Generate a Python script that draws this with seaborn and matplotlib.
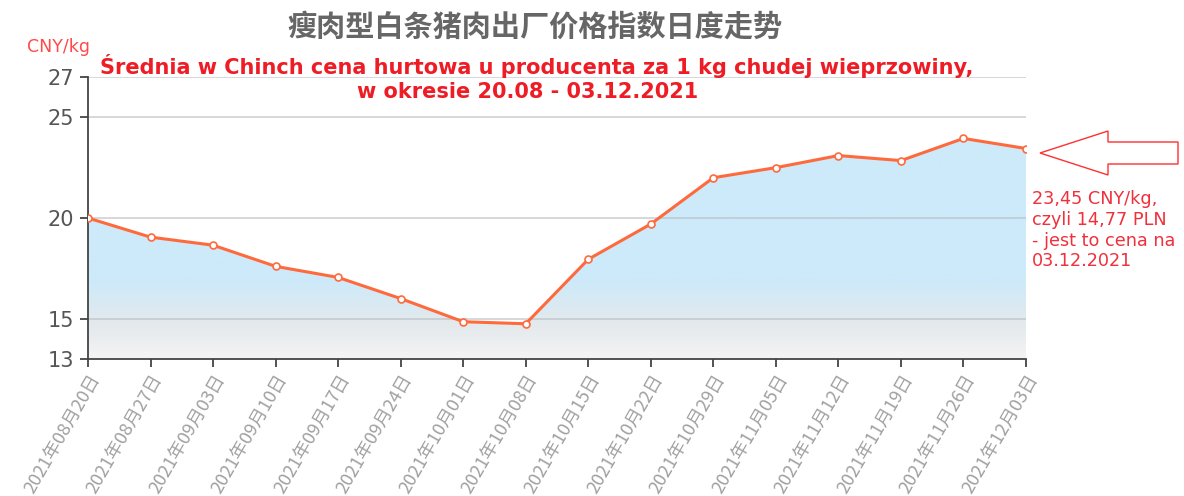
import matplotlib
matplotlib.use("Agg")
import matplotlib.pyplot as plt
import matplotlib.dates as mdates
from matplotlib.colors import LinearSegmentedColormap
from matplotlib.patches import Polygon
import numpy as np
import pandas as pd
import seaborn as sns

# data
dates = ["2021-08-20", "2021-08-27", "2021-09-03", "2021-09-10", "2021-09-17",
         "2021-09-24", "2021-10-01", "2021-10-08", "2021-10-15", "2021-10-22",
         "2021-10-29", "2021-11-05", "2021-11-12", "2021-11-19", "2021-11-26",
         "2021-12-03"]
prices = [20.0, 19.05, 18.65, 17.6, 17.05, 16.0, 14.85, 14.75, 17.95, 19.7,
          22.0, 22.5, 23.1, 22.85, 23.95, 23.45]
y_ticks = [13, 15, 20, 25, 27]

title = "瘦肉型白条猪肉出厂价格指数日度走势"
subtitle_1 = "Średnia w Chinch cena hurtowa u producenta za 1 kg chudej wieprzowiny,"
subtitle_2 = "w okresie 20.08 - 03.12.2021"
unit_label = "CNY/kg"
note = "23,45 CNY/kg,\nczyli 14,77 PLN\n- jest to cena na\n03.12.2021"

df = pd.DataFrame({"date": pd.to_datetime(dates), "price": prices})
tick_labels = [d.strftime("%Y年%m月%d日") for d in df["date"]]

sns.set_style("white")
plt.rcParams["font.family"] = ["DejaVu Sans", "Noto Sans CJK SC"]

W, H = 1184, 496
fig = plt.figure(figsize=(W / 100, H / 100), dpi=100)
ax = fig.add_axes([88 / W, 1 - 359 / H, (1026 - 88) / W, (359 - 77) / H])

x0, x1 = df["date"].min(), df["date"].max()

# area fill with a vertical gradient, clipped to the area under the line
fill = ax.fill_between(df["date"], prices, 13, color="none", lw=0)
cmap = LinearSegmentedColormap.from_list(
    "fade", [(0.0, "#f4f4f4"), (0.12, "#e4e9ec"), (0.28, "#cdeafa"), (1.0, "#cdeafa")])
grad = np.linspace(0, 1, 256).reshape(-1, 1)
img = ax.imshow(grad, cmap=cmap, origin="lower", aspect="auto",
                extent=[mdates.date2num(x0), mdates.date2num(x1), 13, 27], zorder=1)
img.set_clip_path(fill.get_paths()[0], transform=ax.transData)

for yv in [15, 20, 25, 27]:
    ax.axhline(yv, color="#b8bec4", lw=1.4, alpha=0.6, zorder=2)

sns.lineplot(data=df, x="date", y="price", ax=ax, color="#ff6a3d", lw=2.2,
             marker="o", markersize=5, markerfacecolor="white",
             markeredgecolor="#ff6a3d", markeredgewidth=1.2, zorder=4)

ax.set_xlim(x0, x1)
ax.set_ylim(13, 27)
ax.set_yticks(y_ticks)
ax.set_yticklabels([str(v) for v in y_ticks], fontsize=15, color="#555555")
ax.set_xticks(df["date"])
ax.set_xticklabels(tick_labels, rotation=60, ha="right", rotation_mode="anchor",
                   fontsize=13, color="#a0a0a0", family=["Noto Sans CJK SC", "DejaVu Sans"])
ax.set_xlabel("")
ax.set_ylabel("")
ax.tick_params(axis="both", direction="out", length=6, width=1.3, color="#444444",
               bottom=True, left=True)
ax.tick_params(axis="x", pad=3)
ax.tick_params(axis="y", pad=4)
for side in ["top", "right"]:
    ax.spines[side].set_visible(False)
for side in ["left", "bottom"]:
    ax.spines[side].set_color("#444444")
    ax.spines[side].set_linewidth(1.3)

fig.text(535 / W, 1 - 27 / H, title, ha="center", va="center", fontsize=21,
         fontweight="bold", color="#666666", family=["Noto Sans CJK SC", "DejaVu Sans"])
fig.text(537 / W, 1 - 66 / H, subtitle_1, ha="center", va="center", fontsize=15,
         fontweight="bold", color="#ee1c25")
fig.text(528 / W, 1 - 92 / H, subtitle_2, ha="center", va="center", fontsize=15,
         fontweight="bold", color="#ee1c25")
fig.text(27 / W, 1 - 47 / H, unit_label, ha="left", va="center", fontsize=12.5,
         color="#ff4a4a")
fig.text(1032 / W, 1 - 190 / H, note, ha="left", va="top", fontsize=12.7,
         color="#f0303c", linespacing=1.2)

arrow_px = [(1040, 153), (1108, 131), (1108, 142), (1178, 142),
            (1178, 164), (1108, 164), (1108, 175)]
arrow = Polygon([(px / W, 1 - py / H) for px, py in arrow_px], closed=True,
                transform=fig.transFigure, facecolor="white", edgecolor="#ff3030",
                lw=1.0)
fig.patches.append(arrow)

fig.savefig("out.png", dpi=100)
